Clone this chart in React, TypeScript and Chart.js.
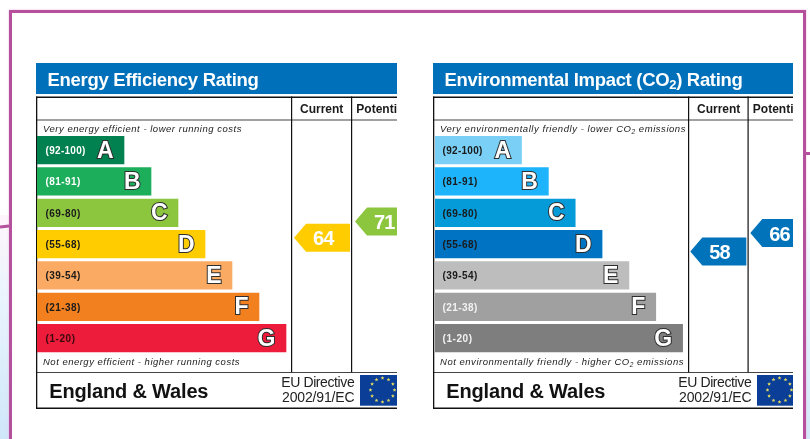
import React, { useEffect, useRef } from "react";
import { Chart, registerables } from "chart.js";

Chart.register(...registerables);

const FONT = '"Liberation Sans", Arial, sans-serif';

const letters = ["A", "B", "C", "D", "E", "F", "G"];
const ranges = ["(92-100)", "(81-91)", "(69-80)", "(55-68)", "(39-54)", "(21-38)", "(1-20)"];
const barLengths = [29, 38, 47, 56, 65, 74, 83];
const columns = ["Current", "Potential"];

const energyColors = ["#00814f", "#1cae5a", "#8cc63f", "#ffcc00", "#fbaa63", "#f2801f", "#ec1c3a"];
const energyLabelColors = ["#ffffff", "#ffffff", "#1a1a1a", "#1a1a1a", "#1a1a1a", "#1a1a1a", "#3a0a10"];
const energyRatings = [64, 71];
const energyRatingColors = ["#ffcc00", "#8cc63f"];

const co2Colors = ["#79cff5", "#1eb4fb", "#059ad8", "#0074c2", "#bdbdbd", "#a0a0a0", "#7e7e7e"];
const co2LabelColors = ["#1a1a1a", "#1a1a1a", "#1a1a1a", "#1a1a1a", "#1a1a1a", "#f2f2f2", "#f2f2f2"];
const co2Ratings = [58, 66];
const co2RatingColors = ["#0073ba", "#0073ba"];

type Seg = { t: string; sub?: boolean };
type Panel = {
  left: number;
  width: number;
  barStart: number;
  tips: [number, number];
  col1: number;
  col2: number;
  title: Seg[];
  titleW: number;
  top: Seg[];
  bottom: Seg[];
  topW: number;
  bottomW: number;
  colors: string[];
  labelColors: string[];
  ratings: number[];
  ratingColors: string[];
};

const panels: Panel[] = [
  {
    left: 36,
    width: 361,
    barStart: 1,
    tips: [258, 319],
    col1: 255.5,
    col2: 315.5,
    title: [{ t: "Energy Efficiency Rating" }],
    titleW: 211,
    top: [{ t: "Very energy efficient - lower running costs" }],
    bottom: [{ t: "Not energy efficient - higher running costs" }],
    topW: 199,
    bottomW: 197,
    colors: energyColors,
    labelColors: energyLabelColors,
    ratings: energyRatings,
    ratingColors: energyRatingColors,
  },
  {
    left: 433,
    width: 360,
    barStart: 2,
    tips: [257.3, 317.3],
    col1: 255.5,
    col2: 315,
    title: [{ t: "Environmental Impact (CO" }, { t: "2", sub: true }, { t: ") Rating" }],
    titleW: 298,
    top: [{ t: "Very environmentally friendly - lower CO" }, { t: "2", sub: true }, { t: " emissions" }],
    bottom: [{ t: "Not environmentally friendly - higher CO" }, { t: "2", sub: true }, { t: " emissions" }],
    topW: 246,
    bottomW: 244,
    colors: co2Colors,
    labelColors: co2LabelColors,
    ratings: co2Ratings,
    ratingColors: co2RatingColors,
  },
];

const HEIGHT = 346;
const PLOT_TOP = 71.5;
const PLOT_BOTTOM = 290.8;
const RATING_MIN = 13.52;
const RATING_MAX = 108.87;

function fitted(ctx: CanvasRenderingContext2D, text: string, x: number, y: number, w: number) {
  ctx.letterSpacing = "0px";
  const m = ctx.measureText(text).width;
  ctx.letterSpacing = (w - m) / text.length + "px";
  ctx.fillText(text, x, y);
  ctx.letterSpacing = "0px";
}

function segs(
  ctx: CanvasRenderingContext2D,
  list: Seg[],
  x: number,
  y: number,
  w: number,
  style: string,
  size: number,
  subSize: number,
  subDrop: number
) {
  const mainFont = `${style} ${size}px ${FONT}`;
  const subFont = `${style} ${subSize}px ${FONT}`;
  let natural = 0;
  let count = 0;
  for (const s of list) {
    ctx.font = s.sub ? subFont : mainFont;
    natural += ctx.measureText(s.t).width;
    count += s.t.length;
  }
  const spacing = (w - natural) / count;
  let cx = x;
  for (const s of list) {
    ctx.font = s.sub ? subFont : mainFont;
    ctx.letterSpacing = "0px";
    const mw = ctx.measureText(s.t).width;
    ctx.letterSpacing = spacing + "px";
    ctx.fillText(s.t, cx, y + (s.sub ? subDrop : 0));
    ctx.letterSpacing = "0px";
    cx += mw + spacing * s.t.length;
  }
}

function star(ctx: CanvasRenderingContext2D, cx: number, cy: number, r: number) {
  ctx.beginPath();
  for (let i = 0; i < 10; i++) {
    const a = -Math.PI / 2 + (i * Math.PI) / 5;
    const rr = i % 2 ? r * 0.45 : r;
    const px = cx + Math.cos(a) * rr;
    const py = cy + Math.sin(a) * rr;
    if (i) ctx.lineTo(px, py);
    else ctx.moveTo(px, py);
  }
  ctx.closePath();
  ctx.fill();
}

function makeFrame(panel: Panel) {
  return {
    id: "epcFrame",
    beforeDatasetsDraw(chart: any) {
      const ctx: CanvasRenderingContext2D = chart.ctx;
      const w = panel.width;
      ctx.save();
      ctx.fillStyle = "#ffffff";
      ctx.fillRect(0, 0, w, HEIGHT);
      ctx.fillStyle = "#0070ba";
      ctx.fillRect(0, 0, w, 31);
      ctx.fillStyle = "#ffffff";
      ctx.textAlign = "left";
      ctx.textBaseline = "alphabetic";
      segs(ctx, panel.title, 11.5, 22.7, panel.titleW, "bold", 18.5, 13, 3);

      ctx.fillStyle = "#111111";
      ctx.fillRect(0, 33.5, w, 1.5);
      ctx.fillStyle = "#444444";
      ctx.fillRect(0, 56.5, w, 1);
      ctx.fillRect(0, 309, w, 1);
      ctx.fillStyle = "#111111";
      ctx.fillRect(0, 344.5, w, 1.5);
      ctx.fillRect(0, 33.5, 1.3, 312);
      ctx.fillRect(panel.col1 - 0.5, 33.5, 1.2, 276);
      ctx.fillRect(panel.col2 - 0.5, 33.5, 1.2, 276);

      ctx.fillStyle = "#1a1a1a";
      ctx.font = `bold 12px ${FONT}`;
      ctx.fillText(columns[0], panel.col1 + 8.5, 50);
      ctx.fillText(columns[1], panel.col2 + 4.8, 50);

      ctx.fillStyle = "#222222";
      segs(ctx, panel.top, 7, 68.5, panel.topW, "italic", 9.5, 6.5, 2);
      segs(ctx, panel.bottom, 7, 302, panel.bottomW, "italic", 9.5, 6.5, 2);

      ctx.fillStyle = "#111111";
      ctx.font = `bold 20px ${FONT}`;
      fitted(ctx, "England & Wales", 13.3, 335, 159);
      ctx.fillStyle = "#222222";
      ctx.font = `14px ${FONT}`;
      fitted(ctx, "EU Directive", 245.3, 323.7, 73);
      fitted(ctx, "2002/91/EC", 246, 339.3, 72.5);

      ctx.fillStyle = "#0b3f97";
      ctx.fillRect(324, 312, 40, 30.7);
      ctx.fillStyle = "#e0d860";
      for (let i = 0; i < 12; i++) {
        const a = (i * Math.PI) / 6;
        star(ctx, 346.5 + Math.cos(a) * 12, 327 + Math.sin(a) * 12, 2);
      }
      ctx.restore();
    },
    afterDatasetsDraw(chart: any) {
      const ctx: CanvasRenderingContext2D = chart.ctx;
      ctx.save();
      ctx.textBaseline = "alphabetic";
      const bars = chart.getDatasetMeta(0).data;
      bars.forEach((bar: any, i: number) => {
        ctx.textAlign = "left";
        ctx.fillStyle = panel.labelColors[i];
        ctx.font = `bold 10px ${FONT}`;
        fitted(ctx, ranges[i], 9.6, bar.y + 3.7, ranges[i].length * 5);
        ctx.textAlign = "right";
        ctx.font = `bold 23px ${FONT}`;
        ctx.lineJoin = "miter";
        ctx.miterLimit = 3;
        ctx.lineWidth = 2;
        ctx.strokeStyle = "#2e2e2e";
        ctx.strokeText(letters[i], bar.x - 10.5, bar.y + 7.6);
        ctx.fillStyle = "#ffffff";
        ctx.fillText(letters[i], bar.x - 10.5, bar.y + 7.6);
      });
      const pts = chart.getDatasetMeta(1).data;
      pts.forEach((p: any, i: number) => {
        const half = 14;
        const notch = 12;
        ctx.fillStyle = panel.ratingColors[i];
        ctx.beginPath();
        ctx.moveTo(p.x, p.y);
        ctx.lineTo(p.x + notch, p.y - half);
        ctx.lineTo(p.x + 56, p.y - half);
        ctx.lineTo(p.x + 56, p.y + half);
        ctx.lineTo(p.x + notch, p.y + half);
        ctx.closePath();
        ctx.fill();
        ctx.fillStyle = "#ffffff";
        ctx.textAlign = "left";
        ctx.font = `bold 20px ${FONT}`;
        fitted(ctx, String(panel.ratings[i]), p.x + 19, p.y + 7.5, 20.5);
      });
      ctx.restore();
    },
  };
}

function Rating({ panel }: { panel: Panel }) {
  const ref = useRef<HTMLCanvasElement | null>(null);
  useEffect(() => {
    if (!ref.current) return;
    const areaW = panel.width - panel.barStart;
    const pitch = panel.tips[1] - panel.tips[0];
    const colMin = -(panel.tips[0] - panel.barStart) / pitch;
    const chart = new Chart(ref.current, {
      type: "bar",
      data: {
        labels: letters,
        datasets: [
          {
            type: "bar",
            data: barLengths,
            backgroundColor: panel.colors,
            barThickness: 27.6,
            grouped: false,
            xAxisID: "x",
            yAxisID: "y",
          },
          {
            type: "scatter",
            indexAxis: "x",
            data: panel.ratings.map((v, i) => ({ x: i, y: v })),
            pointRadius: 0,
            xAxisID: "xColumn",
            yAxisID: "yRating",
          },
        ],
      } as any,
      options: {
        indexAxis: "y",
        responsive: false,
        animation: false,
        devicePixelRatio: 1,
        layout: {
          padding: { left: panel.barStart, right: 0, top: PLOT_TOP, bottom: HEIGHT - PLOT_BOTTOM },
        },
        plugins: { legend: { display: false }, tooltip: { enabled: false }, title: { display: false } },
        scales: {
          x: { type: "linear", display: false, min: 0, max: 120, offset: false },
          y: { type: "category", display: false, offset: true },
          xColumn: { type: "linear", axis: "x", display: false, min: colMin, max: colMin + areaW / pitch, offset: false },
          yRating: { type: "linear", axis: "y", display: false, min: RATING_MIN, max: RATING_MAX, offset: false },
        },
      } as any,
      plugins: [makeFrame(panel)],
    });
    return () => chart.destroy();
  }, [panel]);
  return (
    <canvas
      ref={ref}
      width={panel.width}
      height={HEIGHT}
      style={{ position: "absolute", left: panel.left, top: 63, width: panel.width, height: HEIGHT }}
    />
  );
}

const PINK = "#b5509c";

export default function App() {
  useEffect(() => {
    document.body.style.margin = "0";
    document.body.style.background = "#ffffff";
  }, []);
  const box = (s: React.CSSProperties) => <div style={{ position: "absolute", ...s }} />;
  return (
    <div style={{ position: "relative", width: 810, height: 439, overflow: "hidden", background: "#ffffff" }}>
      {box({ left: 0, top: 215, width: 9, height: 224, background: "linear-gradient(#fff5fb, #e8f4fd 40%, #cfe6f9)" })}
      {box({ left: 806, top: 190, width: 4, height: 249, background: "linear-gradient(#ffffff, #e8f3fc 40%, #d4e8f9)" })}
      {box({ left: 8.5, top: 10, width: 797, height: 440, boxSizing: "border-box", border: `3px solid ${PINK}`, boxShadow: "0 0 2px #e9b8dc" })}
      {box({ left: 0, top: 225, width: 9, height: 3, background: PINK, transform: "rotate(-6deg)" })}
      {box({ left: 805, top: 152, width: 5, height: 3, background: PINK })}
      {panels.map((p) => (
        <Rating key={p.left} panel={p} />
      ))}
    </div>
  );
}
